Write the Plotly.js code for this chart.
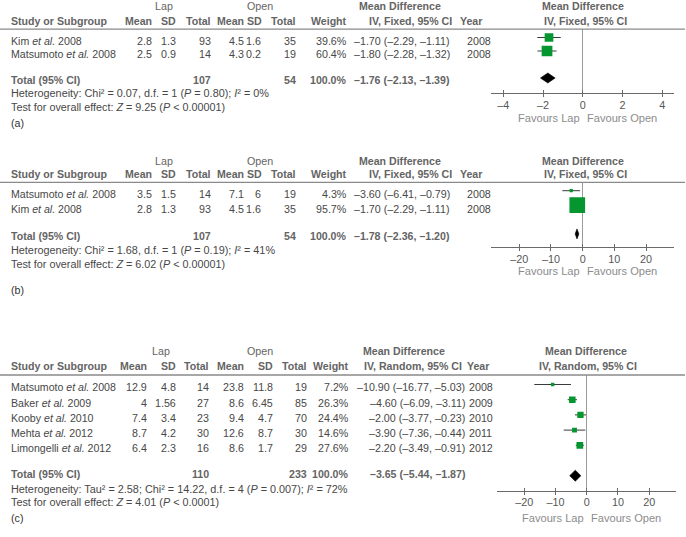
<!DOCTYPE html>
<html>
<head>
<meta charset="utf-8">
<script src="https://cdn.plot.ly/plotly-3.0.1.min.js"></script>
<style>html,body{margin:0;padding:0;background:#fff;}#chart{width:686px;height:537px;}</style>
</head>
<body>
<div id="chart"></div>
<script>
// ---------------- DATA: panel (a) ----------------
const studyA = ['Kim', 'Matsumoto'];
const studyYearA = [2008, 2008];
const lapMeanA = [2.8, 2.5];
const lapSDA = [1.3, 0.9];
const lapNA = [93, 14];
const openMeanA = [4.5, 4.3];
const openSDA = [1.6, 0.2];
const openNA = [35, 19];
const weightA = [39.6, 60.4];
const mdA = [-1.70, -1.80];
const loA = [-2.29, -2.28];
const hiA = [-1.11, -1.32];
const yearA = [2008, 2008];
const totalA = [107, 54, 100.0];          // lap N, open N, weight
const totalMdA = [-1.76, -2.13, -1.39];   // estimate, lower, upper
const hetA = ['0.07', '1', '0.80', '0'];  // Chi², d.f., P, I²
const testA = ['9.25', '< 0.00001'];      // Z, P
const ticksA = [-4, -2, 0, 2, 4];

// ---------------- DATA: panel (b) ----------------
const studyB = ['Matsumoto', 'Kim'];
const studyYearB = [2008, 2008];
const lapMeanB = [3.5, 2.8];
const lapSDB = [1.5, 1.3];
const lapNB = [14, 93];
const openMeanB = [7.1, 4.5];
const openSDB = [6, 1.6];
const openNB = [19, 35];
const weightB = [4.3, 95.7];
const mdB = [-3.60, -1.70];
const loB = [-6.41, -2.29];
const hiB = [-0.79, -1.11];
const yearB = [2008, 2008];
const totalB = [107, 54, 100.0];
const totalMdB = [-1.78, -2.36, -1.20];
const hetB = ['1.68', '1', '0.19', '41'];
const testB = ['6.02', '< 0.00001'];
const ticksB = [-20, -10, 0, 10, 20];

// ---------------- DATA: panel (c) ----------------
const studyC = ['Matsumoto', 'Baker', 'Kooby', 'Mehta', 'Limongelli'];
const studyYearC = [2008, 2009, 2010, 2012, 2012];
const lapMeanC = [12.9, 4, 7.4, 8.7, 6.4];
const lapSDC = [4.8, 1.56, 3.4, 4.2, 2.3];
const lapNC = [14, 27, 23, 30, 16];
const openMeanC = [23.8, 8.6, 9.4, 12.6, 8.6];
const openSDC = [11.8, 6.45, 4.7, 8.7, 1.7];
const openNC = [19, 85, 70, 30, 29];
const weightC = [7.2, 26.3, 24.4, 14.6, 27.6];
const mdC = [-10.90, -4.60, -2.00, -3.90, -2.20];
const loC = [-16.77, -6.09, -3.77, -7.36, -3.49];
const hiC = [-5.03, -3.11, -0.23, -0.44, -0.91];
const yearC = [2008, 2009, 2010, 2011, 2012];
const totalC = [110, 233, 100.0];
const totalMdC = [-3.65, -5.44, -1.87];
const hetC = ['14.22', '4', '0.007', '72', '2.58']; // Chi², d.f., P, I², Tau²
const testC = ['4.01', '< 0.0001'];
const ticksC = [-20, -10, 0, 10, 20];

// ---------------- STYLE / LAYOUT ----------------
const W = 686, H = 537;
const FONT = '"Liberation Sans", Arial, Helvetica, sans-serif';
const DATA_COL = '#474747', HEAD_COL = '#646464', FAV_COL = '#8c8c8c';
const GREEN = '#05962f';
const FS = 10.7;

const layoutCfg = [
  { head1Y: 5.7, head2Y: 20.7, sepY: 29.2, axisY: 93.3, y0: 37.5, rowH: 13.5, textOff: 3.3,
    totalY: 80, hetY: 93.3, testY: 106.7, labelY: 123.3, favY: 117.7,
    cols: [151.7, 175.7, 210.7, 244.3, 261, 295.7, 346.7], sdHeadX: 262, lapX: 164.3, openX: 260.3,
    mdHeadX: 400, ivX: 369.3, yearHeadX: 481.7, ciX: 354, ciAnchor: 'left', yearX: 466.7,
    plotX: [491, 674], range: [-4.619, 4.589], plotHeadX: 582.7, plotIvX: 585,
    sizeK: 1.38, diaH: 5 },
  { head1Y: 160.7, head2Y: 174, sepY: 182.3, axisY: 247.3, y0: 190.7, rowH: 14.4, textOff: 3.6,
    totalY: 235.7, hetY: 250, testY: 264, labelY: 289.5, favY: 270.7,
    cols: [151.7, 175.7, 210.7, 244.3, 261, 295.7, 346.7], sdHeadX: 262, lapX: 163.8, openX: 259.5,
    mdHeadX: 400, ivX: 369.3, yearHeadX: 481.7, ciX: 354, ciAnchor: 'left', yearX: 466.7,
    plotX: [491, 674], range: [-28.93, 28.84], plotHeadX: 582.7, plotIvX: 585,
    sizeK: 1.6, diaH: 5 },
  { head1Y: 351, head2Y: 366, sepY: 375, axisY: 490.5, y0: 384.5, rowH: 15.2, textOff: 2.9,
    totalY: 474.3, hetY: 489, testY: 502.3, labelY: 518.3, favY: 517.7,
    cols: [146.7, 175.7, 209, 244.3, 273.3, 306.7, 349.3], sdHeadX: 273.3, lapX: 160.8, openX: 259.5,
    mdHeadX: 404, ivX: 364, yearHeadX: 489, ciX: 465, ciAnchor: 'right', yearX: 469.3,
    plotX: [497.3, 676], range: [-28.61, 28.58], plotHeadX: 586, plotIvX: 588,
    sizeK: 1.28, diaH: 5.5 }
];

const panels = [
  { label: '(a)', model: 'Fixed', names: studyA, nameYears: studyYearA, lapMean: lapMeanA, lapSD: lapSDA, lapN: lapNA,
    openMean: openMeanA, openSD: openSDA, openN: openNA, weight: weightA, md: mdA, lo: loA, hi: hiA, year: yearA,
    total: totalA, totalMd: totalMdA, ticks: ticksA,
    het: 'Heterogeneity: Chi² = ' + hetA[0] + ', d.f. = ' + hetA[1] + ' (<i>P</i> = ' + hetA[2] + '); <i>I</i>² = ' + hetA[3] + '%',
    test: 'Test for overall effect: <i>Z</i> = ' + testA[0] + ' (<i>P</i> ' + testA[1] + ')' },
  { label: '(b)', model: 'Fixed', names: studyB, nameYears: studyYearB, lapMean: lapMeanB, lapSD: lapSDB, lapN: lapNB,
    openMean: openMeanB, openSD: openSDB, openN: openNB, weight: weightB, md: mdB, lo: loB, hi: hiB, year: yearB,
    total: totalB, totalMd: totalMdB, ticks: ticksB,
    het: 'Heterogeneity: Chi² = ' + hetB[0] + ', d.f. = ' + hetB[1] + ' (<i>P</i> = ' + hetB[2] + '); <i>I</i>² = ' + hetB[3] + '%',
    test: 'Test for overall effect: <i>Z</i> = ' + testB[0] + ' (<i>P</i> ' + testB[1] + ')' },
  { label: '(c)', model: 'Random', names: studyC, nameYears: studyYearC, lapMean: lapMeanC, lapSD: lapSDC, lapN: lapNC,
    openMean: openMeanC, openSD: openSDC, openN: openNC, weight: weightC, md: mdC, lo: loC, hi: hiC, year: yearC,
    total: totalC, totalMd: totalMdC, ticks: ticksC,
    het: 'Heterogeneity: Tau² = ' + hetC[4] + '; Chi² = ' + hetC[0] + ', d.f. = ' + hetC[1] + ' (<i>P</i> = ' + hetC[2] + '); <i>I</i>² = ' + hetC[3] + '%',
    test: 'Test for overall effect: <i>Z</i> = ' + testC[0] + ' (<i>P</i> ' + testC[1] + ')' }
];

// ---------------- BUILD ----------------
const px = x => x / W;
const py = y => 1 - y / H;
const dash = v => (v < 0 ? '\u2013' : '') + Math.abs(v).toFixed(2);
const ciText = (m, l, h) => dash(m) + ' (' + dash(l) + ', ' + dash(h) + ')';

const annotations = [];
const shapes = [];
const traces = [];
const layout = {
  width: W, height: H, margin: { l: 0, r: 0, t: 0, b: 0, pad: 0 },
  paper_bgcolor: '#ffffff', plot_bgcolor: 'rgba(0,0,0,0)', showlegend: false,
  font: { family: FONT, size: FS, color: DATA_COL }
};

function ann(text, x, y, anchor, opt) {
  opt = opt || {};
  annotations.push({
    text: text, x: px(x), y: py(y), xref: 'paper', yref: 'paper',
    xanchor: anchor, yanchor: 'middle', showarrow: false, borderpad: 0, borderwidth: 0,
    font: { family: FONT, size: opt.size || FS, color: opt.color || DATA_COL }
  });
}

panels.forEach((p, k) => {
  const c = layoutCfg[k];
  const xs = k === 0 ? '' : String(k + 1);
  const ovs = String(k + 4);
  const n = p.names.length;

  // header
  ann('Lap', c.lapX, c.head1Y, 'center', { color: HEAD_COL });
  ann('Open', c.openX, c.head1Y, 'center', { color: HEAD_COL });
  ann('<b>Mean Difference</b>', c.mdHeadX, c.head1Y, 'center', { color: HEAD_COL, size: 10.6 });
  ann('<b>Mean Difference</b>', c.plotHeadX, c.head1Y, 'center', { color: HEAD_COL, size: 10.6 });
  ann('<b>Study or Subgroup</b>', 11.3, c.head2Y, 'left', { color: HEAD_COL, size: 10.6 });
  const headX = [c.cols[0], c.cols[1], c.cols[2], c.cols[3], c.sdHeadX, c.cols[5], c.cols[6]];
  ['Mean', 'SD', 'Total', 'Mean', 'SD', 'Total', 'Weight'].forEach((h, j) =>
    ann('<b>' + h + '</b>', headX[j], c.head2Y, 'right', { color: HEAD_COL, size: 10.6 }));
  ann('<b>IV, ' + p.model + ', 95% CI</b>', c.ivX, c.head2Y, 'left', { color: HEAD_COL, size: 10.6 });
  ann('<b>Year</b>', c.yearHeadX, c.head2Y, 'right', { color: HEAD_COL, size: 10.6 });
  ann('<b>IV, ' + p.model + ', 95% CI</b>', c.plotIvX, c.head2Y, 'center', { color: HEAD_COL, size: 10.6 });

  shapes.push({ type: 'line', xref: 'paper', yref: 'paper', x0: 0, x1: px(685), y0: py(c.sepY), y1: py(c.sepY),
    line: { color: '#8a8a8a', width: 1.3 } });

  // rows
  for (let i = 0; i < n; i++) {
    const y = c.y0 + i * c.rowH + c.textOff;
    ann(p.names[i] + ' <i>et al.</i> ' + p.nameYears[i], 11.3, y, 'left', { size: 10.6 });
    const vals = [p.lapMean[i], p.lapSD[i], p.lapN[i], p.openMean[i], p.openSD[i], p.openN[i]];
    vals.forEach((v, j) => ann(String(v), c.cols[j], y, 'right'));
    ann(p.weight[i].toFixed(1) + '%', c.cols[6], y, 'right');
    ann(ciText(p.md[i], p.lo[i], p.hi[i]), c.ciX, y, c.ciAnchor);
    ann(String(p.year[i]), c.yearX, y, 'left');
  }
  // total row
  ann('<b>Total (95% CI)</b>', 11.3, c.totalY, 'left', { color: HEAD_COL, size: 10.6 });
  ann('<b>' + p.total[0] + '</b>', c.cols[2], c.totalY, 'right', { color: HEAD_COL, size: 10.6 });
  ann('<b>' + p.total[1] + '</b>', c.cols[5], c.totalY, 'right', { color: HEAD_COL, size: 10.6 });
  ann('<b>' + p.total[2].toFixed(1) + '%</b>', c.cols[6], c.totalY, 'right', { color: HEAD_COL, size: 10.6 });
  ann('<b>' + ciText(p.totalMd[0], p.totalMd[1], p.totalMd[2]) + '</b>', c.ciX, c.totalY, c.ciAnchor, { color: HEAD_COL, size: 10.6 });
  ann(p.het, 11.3, c.hetY, 'left', { size: 10.85 });
  ann(p.test, 11.3, c.testY, 'left', { size: 10.8 });
  ann(p.label, 11.3, c.labelY, 'left', { color: '#333' });

  // favours
  annotations.push({ text: 'Favours Lap', x: 0, xref: 'x' + xs, y: py(c.favY), yref: 'paper', xanchor: 'right', xshift: -3,
    yanchor: 'middle', showarrow: false, borderpad: 0, borderwidth: 0, font: { family: FONT, size: 11.1, color: FAV_COL } });
  annotations.push({ text: 'Favours Open', x: 0, xref: 'x' + xs, y: py(c.favY), yref: 'paper', xanchor: 'left', xshift: 4.5,
    yanchor: 'middle', showarrow: false, borderpad: 0, borderwidth: 0, font: { family: FONT, size: 11.1, color: FAV_COL } });

  // axes
  const tickText = p.ticks.map(t => (t < 0 ? '\u2013' : '') + Math.abs(t));
  const yr = [(c.axisY - c.y0) / c.rowH, (c.sepY - c.y0) / c.rowH];
  layout['xaxis' + xs] = {
    domain: [px(c.plotX[0]), px(c.plotX[1])], range: c.range, anchor: 'y' + xs,
    showline: true, linecolor: '#6a6a6a', linewidth: 1, mirror: false,
    ticks: 'outside', ticklen: 3, tickwidth: 1, tickcolor: '#6a6a6a',
    tickmode: 'array', tickvals: p.ticks, ticktext: tickText, ticklabelstandoff: -1,
    tickfont: { family: FONT, size: 10.8, color: '#555' },
    showgrid: false, zeroline: true, zerolinecolor: '#9a9a9a', zerolinewidth: 1, fixedrange: true
  };
  layout['xaxis' + ovs] = {
    overlaying: 'x' + xs, anchor: 'y' + xs, range: c.range, side: 'bottom',
    ticks: 'inside', ticklen: 3, tickwidth: 1, tickcolor: '#6a6a6a',
    tickmode: 'array', tickvals: p.ticks, showticklabels: false,
    showline: false, showgrid: false, zeroline: false, fixedrange: true
  };
  layout['yaxis' + xs] = {
    domain: [py(c.axisY), py(c.sepY)], range: yr, anchor: 'x' + xs,
    visible: false, showgrid: false, zeroline: false, fixedrange: true
  };

  const rowIdx = p.md.map((_, i) => i);
  // confidence interval lines (drawn first, underneath squares)
  traces.push({
    type: 'scatter', mode: 'markers', xaxis: 'x' + xs, yaxis: 'y' + xs,
    x: p.md, y: rowIdx, marker: { opacity: 0, size: 1 },
    error_x: { type: 'data', symmetric: false,
      array: p.md.map((m, i) => p.hi[i] - m), arrayminus: p.md.map((m, i) => m - p.lo[i]),
      color: '#3a3a3a', thickness: 1, width: 0 },
    hoverinfo: 'skip'
  });
  // study squares, area proportional to weight
  traces.push({
    type: 'scatter', mode: 'markers', xaxis: 'x' + xs, yaxis: 'y' + xs,
    x: p.md, y: rowIdx,
    marker: { symbol: 'square', color: GREEN, opacity: 1, size: p.weight.map(w => c.sizeK * Math.sqrt(w)), line: { width: 0 } },
    hoverinfo: 'skip'
  });
  // pooled diamond
  const yt = n + 1, h = c.diaH / c.rowH;
  const tm = p.totalMd;
  traces.push({
    type: 'scatter', mode: 'lines', xaxis: 'x' + xs, yaxis: 'y' + xs,
    x: [tm[1], tm[0], tm[2], tm[0], tm[1]], y: [yt, yt - h, yt, yt + h, yt],
    fill: 'toself', fillcolor: '#000', line: { color: '#000', width: 0.6 }, hoverinfo: 'skip'
  });
  // invisible trace to register overlay tick axis
  traces.push({
    type: 'scatter', mode: 'markers', xaxis: 'x' + ovs, yaxis: 'y' + xs,
    x: [0], y: [0], marker: { opacity: 0, size: 1 }, hoverinfo: 'skip'
  });
});

layout.annotations = annotations;
layout.shapes = shapes;
Plotly.newPlot('chart', traces, layout, { displayModeBar: false, staticPlot: true });
</script>
</body>
</html>
